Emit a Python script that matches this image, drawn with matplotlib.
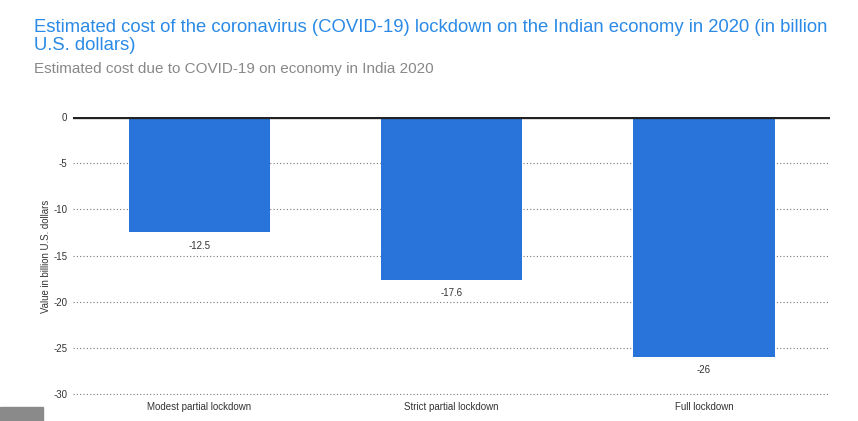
import matplotlib
matplotlib.use('Agg')
from matplotlib import pyplot as plt
from matplotlib.patches import Rectangle

categories = ['Modest partial lockdown', 'Strict partial lockdown', 'Full lockdown']
values = [-12.5, -17.6, -26]
yticks = [0, -5, -10, -15, -20, -25, -30]

plt.rcParams['font.family'] = ['Liberation Sans', 'DejaVu Sans']

fig = plt.figure(figsize=(8.58, 4.21), dpi=100)
ax = fig.add_axes([0.0851, 0.0617, 0.8823, 0.6604])

x = range(len(categories))
ax.bar(x, values, width=0.56, color='#2874db', zorder=3)
for i, v in zip(x, values):
    ax.text(i, v - 0.9, '{:g}'.format(v), ha='center', va='top', fontsize=7, color='#333333')

ax.set_xlim(-0.5, len(categories) - 0.5)
ax.set_ylim(-30.1, 0)
ax.set_yticks(yticks)
ax.set_yticklabels([str(t) for t in yticks])
ax.set_xticks(list(x))
ax.set_xticklabels(categories)
ax.tick_params(axis='both', length=0, labelsize=7, labelcolor='#333333')
ax.tick_params(axis='y', pad=4)
ax.tick_params(axis='x', pad=5)
ax.yaxis.grid(True, linestyle=(0, (1, 2)), color='#777777', linewidth=0.8, zorder=0)
ax.axhline(0, color='#222222', linewidth=2.4, zorder=4)
for s in ax.spines.values():
    s.set_visible(False)
ax.set_ylabel('Value in billion U.S. dollars', fontsize=6.9, color='#333333', labelpad=2)

fig.text(34 / 858, 1 - 19 / 421,
         'Estimated cost of the coronavirus (COVID-19) lockdown on the Indian economy in 2020 (in billion\nU.S. dollars)',
         fontsize=13.3, color='#2a8ae6', va='top', ha='left', linespacing=1.08)
fig.text(34 / 858, 1 - 62 / 421, 'Estimated cost due to COVID-19 on economy in India 2020',
         fontsize=11, color='#888888', va='top', ha='left')

fig.patches.append(Rectangle((0, 0), 43 / 858, 14 / 421, transform=fig.transFigure,
                             color='#8a8a8a', zorder=5))

fig.savefig('out.png', dpi=100)
